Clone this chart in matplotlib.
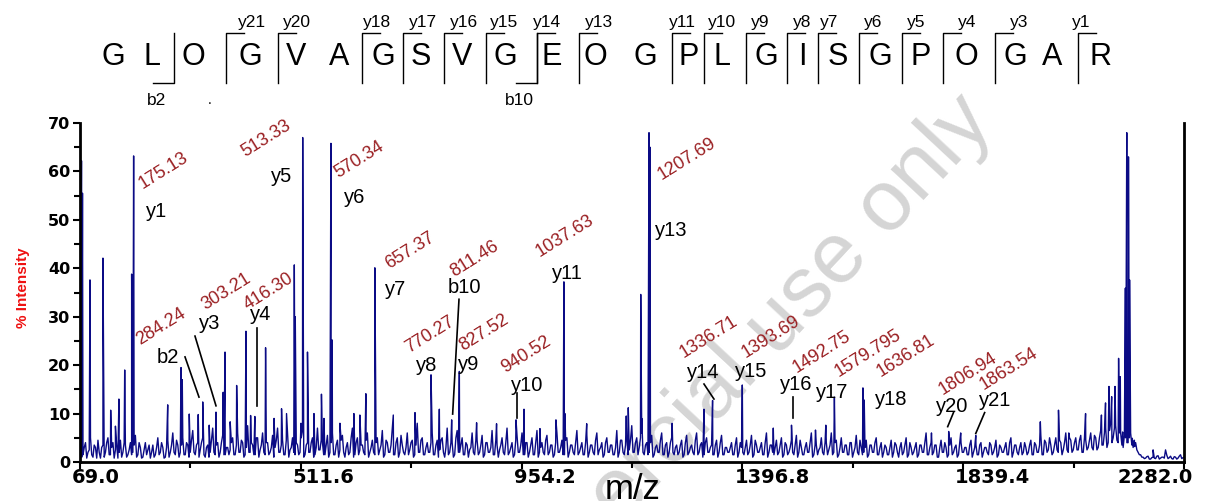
import numpy as np
import matplotlib
matplotlib.use('Agg')
import matplotlib.pyplot as plt
from matplotlib.ticker import FixedLocator

plt.rcParams['font.family'] = ['Liberation Sans', 'DejaVu Sans']

# ---------------- data ----------------
sequence = ['G', 'L', 'O', 'G', 'V', 'A', 'G', 'S', 'V', 'G', 'E', 'O',
            'G', 'P', 'L', 'G', 'I', 'S', 'G', 'P', 'O', 'G', 'A', 'R']
top_y_ions = ['y21', 'y20', 'y18', 'y17', 'y16', 'y15', 'y14', 'y13', 'y11',
              'y10', 'y9', 'y8', 'y7', 'y6', 'y5', 'y4', 'y3', 'y1']
top_b_ions = ['b2', 'b10']

# baseline noise level, one value every 5 m/z starting at 70
noise = [
    3.5, 1.5, 4.0, 2.0, 5.0, 1.0, 3.0, 4.5, 0.8, 3.5, 2.0, 5.0, 1.5, 4.0, 2.5, 0.8, 4.5, 2.0, 3.5, 1.5,
    4.0, 2.0, 5.5, 1.5, 3.0, 1.0, 4.0, 2.5, 0.8, 3.5, 1.5, 5.0, 2.0, 3.0, 1.0, 4.5, 2.0, 6.0, 1.5, 3.5,
    2.0, 5.0, 1.5, 3.5, 2.0, 6.5, 1.5, 4.0, 2.5, 5.0, 1.0, 3.5, 2.0, 7.0, 1.5, 4.0, 2.0, 5.5, 1.5, 3.0,
    2.5, 5.0, 1.5, 6.0, 2.0, 4.0, 1.5, 7.5, 2.0, 3.5, 1.5, 5.0, 2.5, 6.0, 1.5, 4.0, 2.0, 5.5, 3.0, 7.0,
    2.0, 4.5, 1.5, 6.0, 2.5, 5.0, 1.5, 3.5, 2.0, 6.5, 1.5, 4.0, 2.0, 5.0, 1.5, 7.0, 2.5, 4.0, 1.5, 5.5,
    2.0, 6.0, 1.5, 4.5, 2.5, 5.5, 1.0, 4.0, 2.0, 7.0, 1.5, 5.0, 2.5, 3.5, 1.5, 6.0, 2.0, 4.5, 1.5, 5.0,
    2.5, 6.5, 1.5, 4.0, 2.0, 7.0, 1.5, 5.0, 2.0, 3.5, 1.5, 6.0, 2.5, 4.5, 1.5, 8.0, 2.0, 5.0, 1.5, 4.0,
    2.0, 6.0, 1.5, 4.5, 2.5, 5.0, 1.0, 7.0, 2.0, 4.0, 1.5, 6.5, 2.0, 5.0, 1.5, 3.5, 2.5, 6.0, 1.5, 4.5,
    2.0, 5.5, 1.5, 4.0, 2.0, 6.5, 1.5, 3.5, 2.5, 5.0, 1.5, 7.0, 2.0, 4.0, 1.5, 5.5, 2.0, 6.0, 1.5, 4.0,
    2.0, 5.0, 1.5, 6.5, 2.0, 4.0, 1.5, 5.5, 2.0, 3.5, 1.5, 6.0, 2.0, 4.5, 1.5, 5.0, 2.0, 3.5, 1.5, 6.5,
    2.0, 4.0, 1.5, 5.5, 2.0, 3.5, 1.5, 6.0, 2.5, 4.0, 1.5, 5.0, 2.0, 3.5, 1.5, 6.5, 2.0, 4.5, 1.5, 5.0,
    2.5, 7.5, 2.0, 5.0, 3.0, 6.0, 1.5, 4.0, 2.0, 5.5, 1.5, 3.5, 2.0, 6.0, 1.5, 4.0, 2.0, 5.0, 1.5, 3.5,
    2.0, 4.5, 1.5, 5.5, 2.0, 3.5, 1.5, 6.0, 2.0, 4.0, 1.5, 5.0, 2.0, 3.5, 1.5, 4.5, 2.0, 5.5, 1.5, 3.0,
    2.0, 4.0, 1.5, 5.0, 2.0, 3.0, 1.5, 4.5, 2.0, 5.5, 1.5, 3.5, 2.0, 4.0, 1.5, 6.0, 2.0, 3.5, 1.5, 4.5,
    2.0, 5.0, 1.5, 3.5, 2.0, 4.5, 1.5, 5.5, 2.0, 3.0, 1.5, 4.0, 2.0, 6.0, 1.5, 3.5, 2.5, 5.0, 1.5, 4.0,
    2.5, 6.0, 2.0, 4.5, 1.5, 5.0, 2.0, 3.5, 1.5, 4.0, 2.0, 5.5, 1.5, 3.0, 2.0, 4.5, 1.5, 3.5, 2.0, 5.0,
    1.5, 4.0, 2.0, 3.0, 1.5, 4.5, 2.0, 3.5, 1.0, 4.0, 2.0, 5.0, 1.5, 3.0, 2.0, 4.0, 1.5, 3.5, 2.0, 6.0,
    1.5, 4.0, 2.0, 3.5, 1.0, 4.5, 2.0, 3.0, 1.5, 5.0, 2.0, 3.5, 1.5, 4.0, 2.0, 3.0, 1.5, 4.5, 2.0, 3.5,
    1.5, 4.0, 2.0, 3.0, 1.5, 3.5, 2.0, 4.5, 1.5, 3.0, 2.0, 4.0, 1.5, 5.0, 2.0, 3.5, 1.5, 4.0, 2.0, 3.0,
    2.0, 4.5, 1.5, 3.5, 2.0, 5.5, 1.5, 4.0, 2.5, 3.5, 2.0, 5.0, 2.0, 4.0, 2.5, 6.0, 2.0, 4.5, 2.5, 5.0,
    2.5, 5.5, 2.0, 4.5, 3.0, 6.0, 2.5, 5.0, 3.0, 6.5, 3.5, 7.0, 4.0, 8.0, 5.0, 7.5, 4.0, 6.0, 3.0, 5.0,
    4.0, 6.0, 3.0, 4.0, 2.0, 1.5, 1.0, 0.8, 1.2, 0.6, 1.0, 0.7, 1.3, 0.8, 1.0, 2.5, 0.7, 1.2, 0.6, 1.0,
    0.8, 1.5, 0.9,
]
# second noise trace, one value every 5 m/z starting at 72.5
noise_mid = [
    1.0, 3.0, 0.8, 2.5, 1.5, 3.5, 0.8, 2.0, 3.0, 1.0, 4.0, 1.5, 3.0, 0.8, 3.5, 2.0, 1.0, 4.0, 1.0, 2.5,
    1.5, 3.5, 1.0, 4.0, 0.8, 2.5, 1.5, 3.5, 2.0, 1.0, 3.0, 1.5, 4.0, 0.8, 3.0, 1.0, 3.5, 2.0, 4.5, 1.0,
    3.5, 1.5, 4.0, 1.0, 4.5, 2.0, 3.5, 1.0, 4.0, 1.5, 3.0, 1.0, 4.5, 2.0, 3.5, 1.0, 4.0, 1.5, 3.0, 1.5,
    4.0, 1.5, 3.5, 2.0, 4.5, 1.0, 3.0, 2.0, 4.0, 1.5, 5.0, 1.0, 3.5, 2.0, 4.0, 1.5, 3.0, 1.0, 4.5, 2.0,
    3.5, 1.5, 4.5, 1.0, 3.0, 2.0, 4.0, 1.5, 5.0, 1.0, 3.5, 2.0, 4.0, 1.0, 3.0, 2.5, 4.5, 1.5, 3.5, 1.0,
    4.0, 1.5, 3.5, 1.0, 4.5, 2.0, 3.0, 1.5, 5.0, 1.0, 4.0, 1.5, 3.5, 2.0, 4.5, 1.0, 3.0, 2.0, 4.0, 1.5,
    3.5, 1.0, 4.5, 2.0, 3.5, 1.5, 4.0, 1.0, 5.5, 2.0, 3.0, 1.5, 4.0, 1.0, 3.5, 2.0, 4.5, 1.5, 3.0, 2.0,
    4.0, 1.5, 3.5, 1.0, 4.5, 2.0, 3.0, 1.5, 4.0, 1.0, 5.0, 2.0, 3.5, 1.5, 4.0, 1.0, 3.0, 2.0, 4.5, 1.5,
    3.5, 1.0, 4.0, 2.0, 3.0, 1.5, 4.5, 1.0, 3.5, 2.0, 4.0, 1.5, 3.0, 1.0, 4.5, 2.0, 3.5, 1.5, 4.0, 1.0,
    3.5, 1.5, 4.0, 1.0, 3.0, 2.0, 4.5, 1.5, 3.5, 1.0, 4.0, 2.0, 3.0, 1.5, 4.5, 1.0, 3.5, 2.0, 4.0, 1.5,
    3.0, 1.5, 4.0, 1.0, 3.5, 2.0, 4.5, 1.5, 3.0, 1.0, 4.0, 2.0, 3.5, 1.5, 3.0, 1.0, 4.5, 2.0, 3.5, 1.5,
    4.5, 2.0, 4.0, 1.5, 5.0, 2.0, 3.5, 1.5, 4.0, 1.0, 3.0, 2.0, 4.5, 1.5, 3.5, 1.0, 4.0, 2.0, 3.0, 1.5,
    3.5, 1.0, 4.0, 1.5, 3.0, 2.0, 4.5, 1.5, 3.5, 1.0, 4.0, 2.0, 3.0, 1.5, 3.5, 1.0, 4.0, 1.5, 3.0, 2.0,
    3.0, 1.5, 3.5, 1.0, 4.0, 2.0, 3.0, 1.5, 3.5, 1.0, 4.5, 2.0, 3.0, 1.5, 4.0, 1.0, 3.5, 2.0, 3.0, 1.5,
    3.5, 1.0, 4.0, 1.5, 3.0, 2.0, 3.5, 1.0, 4.5, 1.5, 3.0, 2.0, 4.0, 1.0, 3.5, 1.5, 3.0, 2.0, 4.0, 1.5,
    3.5, 1.5, 4.0, 1.0, 3.0, 2.0, 3.5, 1.5, 4.0, 1.0, 3.0, 2.0, 4.5, 1.5, 3.0, 1.0, 3.5, 2.0, 4.0, 1.5,
    3.0, 1.0, 3.5, 1.5, 3.0, 1.0, 4.0, 2.0, 3.0, 1.5, 3.5, 1.0, 4.0, 1.5, 3.0, 1.0, 3.5, 2.0, 4.0, 1.5,
    3.0, 1.5, 3.5, 1.0, 3.0, 2.0, 4.0, 1.0, 3.5, 1.5, 3.0, 1.0, 4.0, 2.0, 3.0, 1.5, 3.5, 1.0, 3.0, 1.5,
    3.5, 1.0, 3.0, 2.0, 4.0, 1.5, 3.0, 1.0, 3.5, 2.0, 3.0, 1.5, 4.0, 1.0, 3.5, 2.0, 3.0, 1.5, 4.0, 1.5,
    3.5, 1.5, 4.0, 2.0, 3.5, 1.5, 4.5, 2.0, 5.0, 1.5, 3.5, 2.5, 4.5, 1.5, 4.0, 2.5, 5.0, 2.0, 4.0, 2.5,
    4.5, 2.0, 5.0, 2.5, 4.5, 3.0, 5.5, 2.5, 5.0, 3.5, 6.0, 3.0, 6.5, 4.0, 7.0, 4.5, 6.0, 3.5, 5.5, 4.0,
    5.0, 3.5, 4.5, 2.5, 1.5, 1.0, 0.7, 1.1, 0.6, 0.9, 0.8, 1.2, 0.6, 1.0, 0.8, 1.4, 0.9, 0.7, 1.1, 0.6,
    1.2, 0.7, 1.0,
]

peak_mz = [72, 74, 89, 115, 130.5, 140, 147, 158.6, 172.5, 176.5,
           244.8, 271.5, 274, 288, 306, 315, 328, 341.6, 356, 359.7,
           370, 383, 401.7, 411, 419.5, 441, 458, 473, 483, 498.6,
           500.5, 512, 515.4, 525, 538, 553, 558, 572, 574.5, 590,
           618, 630, 642, 660, 697, 740.5, 772.6, 789.3, 814, 829.4,
           864, 904, 943, 959, 991, 1023, 1039, 1041, 1084.7, 1164,
           1168, 1193, 1195, 1209.6, 1211.6, 1256, 1319.8, 1337, 1396.6, 1458.7,
           1495.2, 1543.3, 1564, 1581.2, 1638.4, 1641, 1775.8, 1810.3, 1834.4, 1864.6,
           1994, 2030.4, 2051, 2084.7, 2116.5, 2124.7, 2131.6, 2137, 2143.7, 2150.9,
           2154.3, 2159, 2164.5, 2167.3, 2170.7, 2172.9, 2178.4, 2183, 2220]
peak_int = [62.2, 55.5, 37.6, 42.1, 10.7, 7.4, 13.0, 19.0, 38.8, 63.2,
            11.8, 19.5, 17.0, 9.9, 9.8, 12.4, 7.6, 10.3, 14.4, 22.7,
            8.3, 15.8, 27.0, 9.6, 9.4, 23.6, 9.0, 11.0, 10.0, 40.7,
            30.0, 8.0, 67.0, 22.7, 10.0, 14.0, 9.0, 65.8, 25.2, 8.0,
            10.0, 9.7, 14.1, 40.1, 9.7, 10.2, 18.0, 10.9, 8.7, 18.7,
            8.1, 7.9, 8.7, 10.9, 6.9, 8.7, 37.2, 10.0, 7.9, 9.5,
            11.2, 34.6, 9.0, 68.0, 65.0, 8.0, 10.9, 12.7, 15.9, 7.0,
            7.6, 6.6, 7.6, 13.4, 15.3, 12.8, 6.0, 6.3, 6.0, 5.5,
            8.3, 10.7, 6.0, 10.0, 9.7, 12.2, 15.6, 13.5, 15.6, 21.4,
            17.6, 6.2, 35.9, 68.0, 63.0, 37.6, 4.9, 3.2, 2.5]

ion_names = ['y1', 'y5', 'y6', 'y7', 'b2', 'y3', 'y4', 'y8', 'b10', 'y9',
             'y10', 'y11', 'y13', 'y14', 'y15', 'y16', 'y17', 'y18', 'y20', 'y21']
ion_mz = ['175.13', '513.33', '570.34', '657.37', '284.24', '303.21', '416.30',
          '770.27', '811.46', '827.52', '940.52', '1037.63', '1207.69', '1336.71',
          '1393.69', '1492.75', '1579.795', '1636.81', '1806.94', '1863.54']

x_ticks = [69.0, 511.6, 954.2, 1396.8, 1839.4, 2282.0]
x_minor = [290.3, 732.9, 1175.5, 1618.1, 2060.7]
y_ticks = [0, 10, 20, 30, 40, 50, 60, 70]
y_minor = [5, 15, 25, 35, 45, 55, 65]

# ---------------- layout (pixels / data coords) ----------------
seq_x = [113, 152, 193, 250, 296, 339, 383, 421, 462, 505, 552, 595,
         645, 689, 722, 766, 802, 838, 880, 921, 966, 1015, 1052, 1100]
ybar_x = [226, 278, 362, 403, 444, 486, 537, 579, 672, 704, 746, 787,
          818, 859, 902, 943, 995, 1078]
ylab_x = [252, 297, 377, 423, 464, 504, 547, 599, 682, 722, 760, 802,
          829, 873, 916, 967, 1019, 1081]
bbar_x = [174, 537]
blab_x = [157, 519]

name_pos = [(222.7, 51.7), (474, 58.9), (619.6, 54.7), (702, 35.7), (246, 21.6),
            (328.6, 28.6), (431.4, 30.4), (764.6, 20.0), (840.1, 36.1), (848.8, 20.1),
            (964.4, 15.8), (1046.2, 38.9), (1255, 47.7), (1318.4, 18.5), (1414, 18.7),
            (1505, 15.9), (1577.6, 14.3), (1694.8, 12.9), (1818, 11.5), (1903, 12.8)]
mz_pos = [(194.7, 56.3), (399.7, 63.0), (586.8, 58.6), (689, 39.8), (189.3, 24.2),
          (319.6, 31.4), (404.4, 31.4), (729, 22.6), (818.7, 38.3), (837.3, 23.0),
          (921, 18.3), (991, 42.4), (1235, 58.2), (1279.7, 21.4), (1402.4, 21.4),
          (1505.6, 18.3), (1589.4, 17.6), (1674.2, 17.6), (1797.9, 13.8), (1880.4, 14.9)]
pointers = [((279.5, 21.7), (307.5, 13.4)), ((299.5, 26.0), (341.6, 11.6)),
            ((423.2, 27.6), (423.2, 11.6)), ((828.7, 33.6), (816, 9.9)),
            ((944.4, 14.3), (944.4, 9.0)), ((1319.8, 16.1), (1339.8, 13.0)),
            ((1497.4, 13.4), (1497.4, 9.0)), ((1819.9, 10.2), (1808.3, 7.3)),
            ((1882.4, 10.2), (1864.6, 5.9))]

W, H = 1218, 501
fig = plt.figure(figsize=(W / 100, H / 100), dpi=100)
ax = fig.add_axes([80 / W, 39 / H, 1104 / W, 339 / H])
ov = fig.add_axes([0, 0, 1, 1])
ov.set_xlim(0, W)
ov.set_ylim(H, 0)
ov.axis('off')
ov.patch.set_alpha(0)

# spectrum: two noise grids + peak apexes, drawn as one profile
base_mz = 70 + 5 * np.arange(len(noise))
mid_mz = 72.5 + 5 * np.arange(len(noise_mid))
all_mz = np.concatenate([base_mz, mid_mz, peak_mz])
all_int = np.concatenate([noise, noise_mid, peak_int])
order = np.argsort(all_mz, kind='stable')
ax.plot(all_mz[order], all_int[order], color='#0b0b85', lw=1.0, zorder=2)

ax.set_xlim(69, 2282)
ax.set_ylim(0, 70)
ax.xaxis.set_major_locator(FixedLocator(x_ticks))
ax.xaxis.set_minor_locator(FixedLocator(x_minor))
ax.yaxis.set_major_locator(FixedLocator(y_ticks))
ax.yaxis.set_minor_locator(FixedLocator(y_minor))
ax.set_xticklabels([])
ax.tick_params(which='both', direction='out', width=1.5, color='black')
ax.tick_params(which='major', length=5)
ax.tick_params(which='minor', length=4)
ax.tick_params(axis='y', pad=2)
for lbl in ax.get_yticklabels():
    lbl.set_fontfamily('DejaVu Sans')
    lbl.set_fontweight('bold')
    lbl.set_fontsize(11.5)
ax.spines['top'].set_visible(False)
for s in ['left', 'bottom', 'right']:
    ax.spines[s].set_linewidth(2)

for i, t in enumerate(x_ticks):
    last = i == len(x_ticks) - 1
    ax.annotate(f'{t:.1f}', xy=(t, 0), xycoords=('data', 'axes fraction'),
                xytext=(6.5 if last else -5.8, -4), textcoords='offset points',
                ha='right' if last else 'left', va='top',
                fontfamily='DejaVu Sans', fontweight='bold', fontsize=14)

# watermark behind the spectrum
ax.text(995, 123, 'Commercial use only', transform=ov.transData, clip_on=False,
        fontsize=62, color='#d5d5d5', rotation=47, rotation_mode='anchor',
        ha='right', va='baseline', zorder=0.5)

# ion annotations
for name, (x, y) in zip(ion_names, name_pos):
    ax.text(x, y, name, ha='center', va='center', fontsize=14.5, color='black', zorder=3)
for lab, (x, y) in zip(ion_mz, mz_pos):
    ax.text(x, y, lab, ha='left', va='baseline', rotation=32, rotation_mode='anchor',
            fontsize=13, color='#9a1f22', zorder=3)
for (x0, y0), (x1, y1) in pointers:
    ax.plot([x0, x1], [y0, y1], color='black', lw=1.2, zorder=3)

# axis titles
ov.text(23, 288, '% Intensity', rotation=90, ha='center', va='center',
        fontsize=11, fontweight='bold', color='#ee1111')
ov.text(633, 499, 'm/z', ha='center', va='baseline', fontsize=25, color='black')

# peptide sequence with fragment brackets
for ch, x in zip(sequence, seq_x):
    ov.text(x, 65, ch, ha='center', va='baseline', fontsize=22, color='black')
for name, x, lx in zip(top_y_ions, ybar_x, ylab_x):
    ov.plot([x, x, x + 18], [83, 33, 33], color='black', lw=1.0)
    ov.text(lx, 27, name, ha='center', va='baseline', fontsize=12.5, color='black')
for name, x, lx in zip(top_b_ions, bbar_x, blab_x):
    ov.plot([x - 21, x, x], [83, 83, 33], color='black', lw=1.0)
    ov.text(lx, 105, name, ha='center', va='baseline', fontsize=12.5, color='black')
ov.text(210, 104, '.', ha='center', va='baseline', fontsize=10, color='black')

fig.savefig('out.png', dpi=100)
